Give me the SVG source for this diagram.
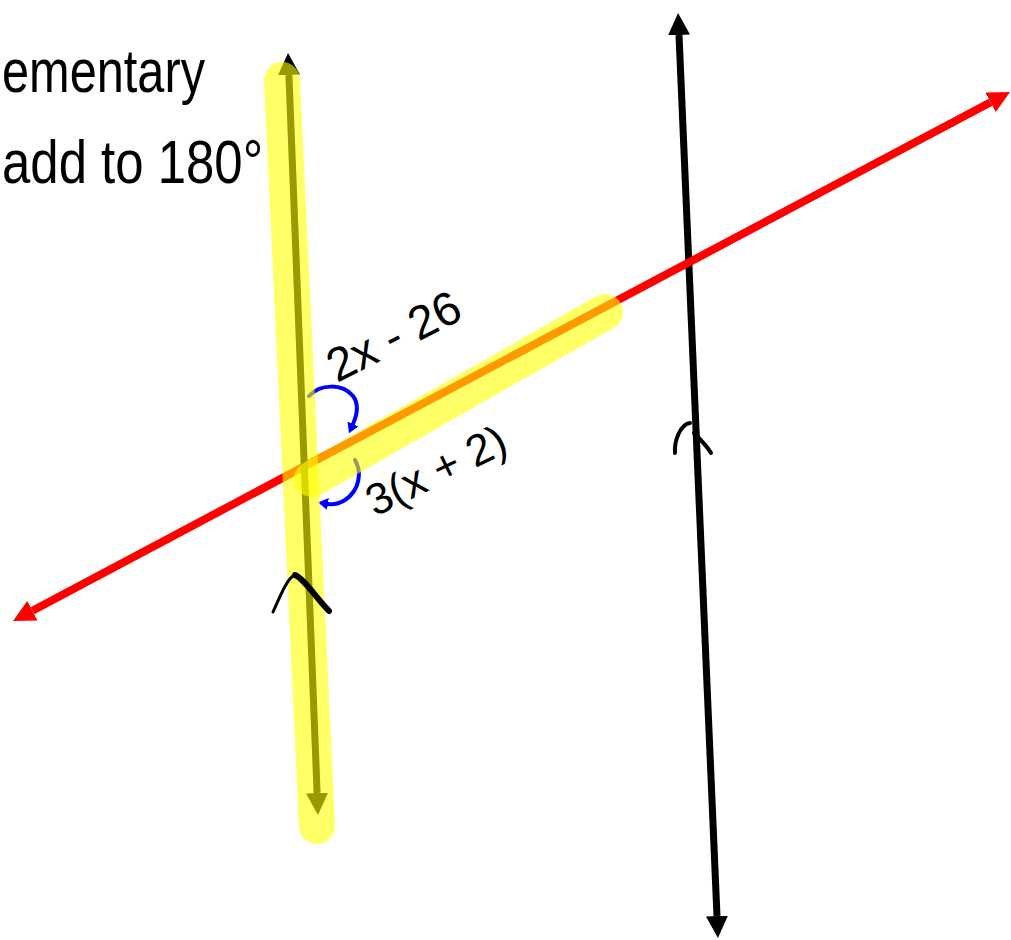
<svg xmlns="http://www.w3.org/2000/svg" width="1011" height="940" viewBox="0 0 1011 940">
<style>
.blk{stroke:#000;stroke-width:7;fill:none}
.red{stroke:#ff0000;stroke-width:8;fill:none}
.blue{stroke:#0000ff;stroke-width:4;fill:none;stroke-linecap:round}
.hl{stroke:#ffff00;stroke-opacity:0.6;stroke-width:36;stroke-linecap:round;fill:none}
.hat{stroke:#000;fill:none;stroke-linecap:round;stroke-linejoin:round}
.lbl{font-family:"Liberation Sans",Arial,sans-serif;fill:#000}
.hand{font-family:"Liberation Sans",Arial,sans-serif;fill:#000;font-size:62px}
</style>
<defs>
<marker id="ahK" markerUnits="userSpaceOnUse" markerWidth="24" markerHeight="24" refX="0" refY="11" orient="auto-start-reverse"><path d="M0,0 L22,11 L0,22 z" fill="#000"/></marker>
<marker id="ahR" markerUnits="userSpaceOnUse" markerWidth="24" markerHeight="24" refX="0" refY="11" orient="auto-start-reverse"><path d="M0,0 L22,11 L0,22 z" fill="#ff0000"/></marker>
<marker id="ahB" markerUnits="userSpaceOnUse" markerWidth="12" markerHeight="12" refX="0" refY="6" orient="auto"><path d="M0,0 L10,6 L0,12 z" fill="#0000ff"/></marker>
</defs>

<g id="heading">
<text class="hand" x="2" y="92" textLength="203" lengthAdjust="spacingAndGlyphs">ementary</text>
<text class="hand" x="2" y="183" textLength="261" lengthAdjust="spacingAndGlyphs">add to 180°</text>
</g>

<g id="connectors">
<path id="line-right" class="blk" d="M679,35 L717,916" marker-start="url(#ahK)" marker-end="url(#ahK)"/>
<path id="transversal" class="red" d="M32.4,610.7 L990.6,102.3" marker-start="url(#ahR)" marker-end="url(#ahR)"/>
<path id="line-left" class="blk" d="M288.9,75 L317.1,793" marker-start="url(#ahK)" marker-end="url(#ahK)"/>
</g>

<g id="angle-arcs">
<path class="blue" d="M309,396 C320,384 342,383 353,396 C359,404 357,415 353,424" marker-end="url(#ahB)"/>
<path class="blue" d="M355,460 C362,472 360,490 345,500 C340,503 335,505 328,504" marker-end="url(#ahB)"/>
</g>

<g id="highlights">
<path class="hl" d="M282,80 L317,826"/>
<path class="hl" d="M312,479 L605,312"/>
</g>

<g id="parallel-marks">
<path class="hat" stroke-width="3" d="M273,612 C281,594 288,577 295,575"/>
<path class="hat" stroke-width="6" d="M295,575 C303,578 315,596 329,611"/>
<path class="hat" stroke-width="4" d="M675,453 C674,440 681,424 690,423"/>
<path class="hat" stroke-width="4" d="M694,433 C701,440 707,446 711,453"/>
</g>

<g id="labels">
<text class="lbl" font-size="47" transform="translate(337,383) rotate(-27)">2x - 26</text>
<text class="lbl" font-size="44" transform="translate(375,517) rotate(-26)">3(x + 2)</text>
</g>
</svg>
